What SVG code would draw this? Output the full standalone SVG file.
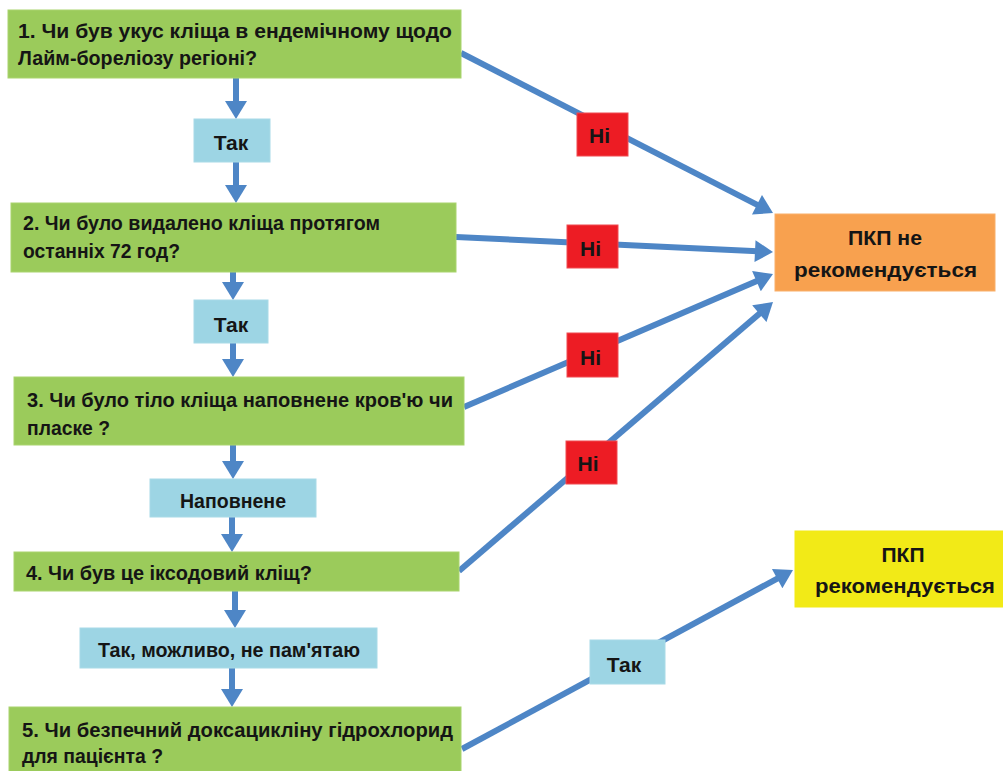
<svg xmlns="http://www.w3.org/2000/svg" width="1003" height="771" viewBox="0 0 1003 771">
<style>
text{font-family:"Liberation Sans",Arial,sans-serif;font-weight:bold;fill:#151515}
.q{font-size:20px}
.l{font-size:21px}
.g{fill:#9BCB5B;stroke:#A9D46E;stroke-width:1}
.b{fill:#9DD5E4;stroke:#A8DAE7;stroke-width:1}
.r{fill:#ED1C24;stroke:#F04A50;stroke-width:1}
.o{fill:#F8A14F;stroke:#F9AF6A;stroke-width:1}
.y{fill:#F2EA17;stroke:#F2EA17;stroke-width:1}
.c line{stroke:#4E86C6;stroke-width:6;marker-end:url(#ah)}
</style>
<defs>
<marker id="ah" markerUnits="userSpaceOnUse" markerWidth="20" markerHeight="22" viewBox="0 0 18 22" refX="8" refY="11" orient="auto">
<path d="M0,0 L18,11 L0,22 z" fill="#4E86C6"/>
</marker>
</defs>
<rect width="1003" height="771" fill="#ffffff"/>
<g class="c" id="connectors">
<line x1="236" y1="78" x2="236" y2="109"/>
<line x1="236" y1="162" x2="236" y2="193"/>
<line x1="233" y1="272" x2="233" y2="290"/>
<line x1="233" y1="343" x2="233" y2="367"/>
<line x1="233" y1="445" x2="233" y2="469"/>
<line x1="232" y1="517" x2="232" y2="542"/>
<line x1="235" y1="591" x2="235" y2="618"/>
<line x1="232" y1="668" x2="232" y2="697"/>
<line x1="461" y1="53" x2="764.1" y2="208.4"/>
<line x1="456" y1="237" x2="763" y2="251.5"/>
<line x1="464" y1="407" x2="763.8" y2="278"/>
<line x1="459" y1="571" x2="765.4" y2="308.5"/>
<line x1="462" y1="749" x2="784.2" y2="574.8"/>
</g>
<g id="q1"><rect class="g" x="8" y="10" width="453" height="68"/>
<text class="q" x="18" y="38" textLength="434" lengthAdjust="spacingAndGlyphs">1. Чи був укус кліща в ендемічному щодо</text>
<text class="q" x="18" y="65" textLength="239" lengthAdjust="spacingAndGlyphs">Лайм-бореліозу регіоні?</text></g>
<g id="q2"><rect class="g" x="11" y="203" width="445" height="69"/>
<text class="q" x="23" y="230" textLength="357" lengthAdjust="spacingAndGlyphs">2. Чи було видалено кліща протягом</text>
<text class="q" x="23" y="258" textLength="157" lengthAdjust="spacingAndGlyphs">останніх 72 год?</text></g>
<g id="q3"><rect class="g" x="14" y="377" width="450" height="68"/>
<text class="q" x="27" y="407" textLength="426" lengthAdjust="spacingAndGlyphs">3. Чи було тіло кліща наповнене кров'ю чи</text>
<text class="q" x="27" y="435" textLength="83" lengthAdjust="spacingAndGlyphs">пласке ?</text></g>
<g id="q4"><rect class="g" x="14" y="552" width="445" height="39"/>
<text class="q" x="26" y="580" textLength="286" lengthAdjust="spacingAndGlyphs">4. Чи був це іксодовий кліщ?</text></g>
<g id="q5"><rect class="g" x="9" y="707" width="452" height="70"/>
<text class="q" x="22" y="737" textLength="431" lengthAdjust="spacingAndGlyphs">5. Чи безпечний доксацикліну гідрохлорид</text>
<text class="q" x="22" y="763" textLength="141" lengthAdjust="spacingAndGlyphs">для пацієнта ?</text></g>
<g id="yes1"><rect class="b" x="194" y="119" width="76" height="43"/><text class="l" x="231" y="150" text-anchor="middle">Так</text></g>
<g id="yes2"><rect class="b" x="194" y="300" width="74" height="43"/><text class="l" x="231" y="332" text-anchor="middle">Так</text></g>
<g id="filled"><rect class="b" x="150" y="479" width="166" height="38"/><text class="l" x="233" y="508" text-anchor="middle" textLength="106" lengthAdjust="spacingAndGlyphs">Наповнене</text></g>
<g id="yes3"><rect class="b" x="80" y="628" width="297" height="40"/><text class="l" x="98" y="657" textLength="262" lengthAdjust="spacingAndGlyphs">Так, можливо, не пам'ятаю</text></g>
<g id="yes4"><rect class="b" x="590" y="640" width="75" height="44"/><text class="l" x="624" y="672" text-anchor="middle">Так</text></g>
<g id="no1"><rect class="r" x="577" y="113" width="51" height="43"/><text class="l" x="599.5" y="143" text-anchor="middle">Ні</text></g>
<g id="no2"><rect class="r" x="567" y="225" width="51" height="43"/><text class="l" x="590.5" y="256" text-anchor="middle">Ні</text></g>
<g id="no3"><rect class="r" x="567" y="333" width="51" height="44"/><text class="l" x="590.5" y="365" text-anchor="middle">Ні</text></g>
<g id="no4"><rect class="r" x="566" y="441" width="51" height="43"/><text class="l" x="588" y="471" text-anchor="middle">Ні</text></g>
<g id="notRecommended"><rect class="o" x="775" y="214" width="220" height="77"/>
<text class="l" x="885" y="245" text-anchor="middle" textLength="74" lengthAdjust="spacingAndGlyphs">ПКП не</text>
<text class="l" x="885.5" y="277" text-anchor="middle" textLength="183" lengthAdjust="spacingAndGlyphs">рекомендується</text></g>
<g id="recommended"><rect class="y" x="795" y="531" width="212" height="76"/>
<text class="l" x="903" y="562" text-anchor="middle">ПКП</text>
<text class="l" x="905" y="593" text-anchor="middle" textLength="180" lengthAdjust="spacingAndGlyphs">рекомендується</text></g>
</svg>
